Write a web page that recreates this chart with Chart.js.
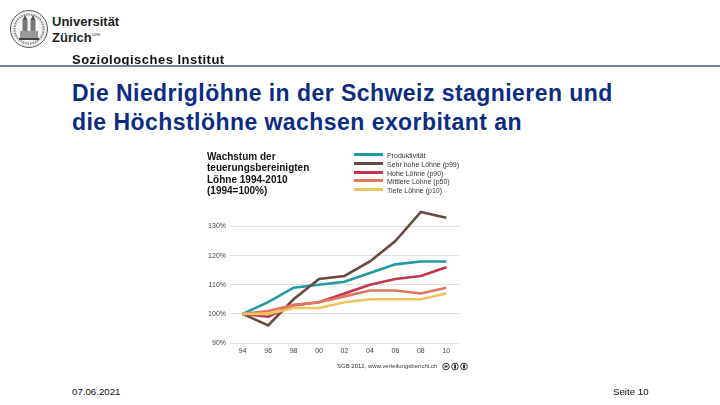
<!DOCTYPE html>
<html lang="de">
<head>
<meta charset="utf-8">
<title>Wachstum der teuerungsbereinigten Löhne</title>
<script src="https://cdn.jsdelivr.net/npm/chart.js@4"></script>
<style>
  html, body { margin: 0; padding: 0; background: #fff; }
  body { width: 720px; height: 405px; position: relative; overflow: hidden; font-family: "Liberation Sans", Arial, sans-serif; color: #111; }
  .abs { position: absolute; white-space: nowrap; }
  #rule { left: 0; top: 65px; width: 720px; height: 2px; background: #7085a3; }
  #institut { left: 72px; top: 52px; font-size: 13px; line-height: 15px; letter-spacing: .48px; font-weight: bold; filter: blur(.25px); }
  #headline { left: 72px; top: 79px; font-size: 23px; line-height: 29px; letter-spacing: .45px; font-weight: bold; color: #0c2c84; }
  #uni { left: 52px; top: 14px; font-size: 13px; line-height: 15.5px; font-weight: bold; color: #222; }
  #uni sup { font-size: 4px; font-weight: normal; line-height: 0; vertical-align: 6px; }
  #date { left: 72px; top: 386px; font-size: 9.7px; }
  #page { left: 613px; top: 386px; font-size: 9.7px; }
  #chartWrap { left: 190px; top: 200px; width: 270px; height: 163px; filter: blur(.4px); }
  #chartTitle { left: 207px; top: 151px; font-size: 10px; line-height: 11.3px; font-weight: bold; filter: blur(.35px); }
  #legend { left: 354px; top: 152px; font-size: 7px; color: #333; filter: blur(.35px); }
  #legend div { height: 8.75px; line-height: 8.75px; }
  #legend i { display: inline-block; width: 29px; height: 3px; margin-right: 4px; vertical-align: 2px; }
  #source { left: 337px; top: 363px; font-size: 6px; line-height: 7px; color: #333; filter: blur(.3px); }
  #cc { left: 442px; top: 362px; }
</style>
</head>
<body>
<svg class="abs" style="left:9px;top:9px" width="40" height="40" viewBox="0 0 40 40">
  <circle cx="20" cy="20" r="18.5" fill="#f4f4f4" stroke="#555" stroke-width="1"/>
  <circle cx="20" cy="20" r="14.5" fill="none" stroke="#888" stroke-width="2" stroke-dasharray="1.5 1"/>
  <rect x="13.5" y="11" width="5" height="18" fill="#777"/>
  <rect x="21.5" y="11" width="5" height="18" fill="#777"/>
  <path d="M13.5 11l2.500-5 2.500 5zM21.500 11l2.500-5 2.500 5z" fill="#555"/>
  <rect x="11" y="22" width="18" height="7" fill="#999"/>
  <rect x="10" y="29" width="20" height="2" fill="#444"/>
</svg>
<div class="abs" id="uni">Universität<br>Zürich<sup>UZH</sup></div>
<div class="abs" id="institut">Soziologisches Institut</div>
<div class="abs" id="rule"></div>
<div class="abs" id="headline">Die Niedriglöhne in der Schweiz stagnieren und<br>die Höchstlöhne wachsen exorbitant an</div>

<div class="abs" id="chartTitle">Wachstum der<br>teuerungsbereinigten<br>Löhne 1994-2010<br>(1994=100%)</div>
<div class="abs" id="legend"></div>
<div class="abs" id="chartWrap"><canvas id="chart" width="270" height="163"></canvas></div>
<div class="abs" id="source">SGB 2012, www.verteilungsbericht.ch</div>
<svg class="abs" id="cc" width="30" height="9" viewBox="0 0 30 9">
  <g fill="none" stroke="#333" stroke-width="1">
    <circle cx="4" cy="4.500" r="3.300"/><circle cx="13" cy="4.500" r="3.300"/><circle cx="22" cy="4.500" r="3.300"/>
  </g>
  <g fill="#333"><rect x="2.500" y="3.500" width="3" height="2"/><rect x="12" y="2.500" width="2" height="4"/><rect x="21" y="2.500" width="2" height="4"/></g>
</svg>
<div class="abs" id="date">07.06.2021</div>
<div class="abs" id="page">Seite 10</div>

<script>
const years = ['94', '96', '98', '00', '02', '04', '06', '08', '10'];
const tickValues = [90, 100, 110, 120, 130];

const produktivitaet = [100, 104, 109, 110, 111, 114, 117, 118, 118];
const p99 = [100, 96, 105, 112, 113, 118, 125, 135, 133];
const p90 = [100, 99, 103, 104, 107, 110, 112, 113, 116];
const p50 = [100, 101, 103, 104, 106, 108, 108, 107, 109];
const p10 = [100, 100, 102, 102, 104, 105, 105, 105, 107];

const seriesNames = ['Produktivität', 'Sehr hohe Löhne (p99)', 'Hohe Löhne (p90)', 'Mittlere Löhne (p50)', 'Tiefe Löhne (p10)'];
const seriesColors = ['#1f9aa6', '#6a4a40', '#c4344c', '#e0765c', '#ecc55e'];
const seriesValues = [produktivitaet, p99, p90, p50, p10];

// Legende als HTML, liegt im Original neben dem Titel
const legend = document.getElementById('legend');
seriesNames.forEach((name, i) => {
  const row = document.createElement('div');
  row.innerHTML = `<i style="background:${seriesColors[i]}"></i>${name}`;
  legend.appendChild(row);
});

new Chart(document.getElementById('chart').getContext('2d'), {
  type: 'line',
  data: {
    labels: years,
    datasets: seriesValues.map((values, i) => ({
      label: seriesNames[i],
      data: values,
      borderColor: seriesColors[i],
      borderWidth: 2.6,
      pointRadius: 0,
      tension: 0,
      // spaetere Serie liegt oben
      order: seriesValues.length - i
    }))
  },
  options: {
    responsive: false,
    animation: false,
    layout: { padding: { top: 9, right: 1, left: 0, bottom: 0 } },
    plugins: { legend: { display: false }, tooltip: { enabled: false } },
    scales: {
      x: {
        offset: true,
        grid: { display: false, drawTicks: false },
        border: { display: false },
        afterFit: s => { s.height = 20; },
        ticks: { color: '#444', font: { size: 7, family: 'Liberation Sans' }, maxRotation: 0, padding: 4 }
      },
      y: {
        min: 90,
        max: 136,
        grid: { color: '#dedede', lineWidth: 1, drawTicks: false },
        border: { display: false },
        afterFit: s => { s.width = 40; },
        afterBuildTicks: s => { s.ticks = tickValues.map(v => ({ value: v })); },
        ticks: { color: '#444', font: { size: 7, family: 'Liberation Sans' }, padding: 4, callback: v => v + '%' }
      }
    }
  }
});
</script>
</body>
</html>
